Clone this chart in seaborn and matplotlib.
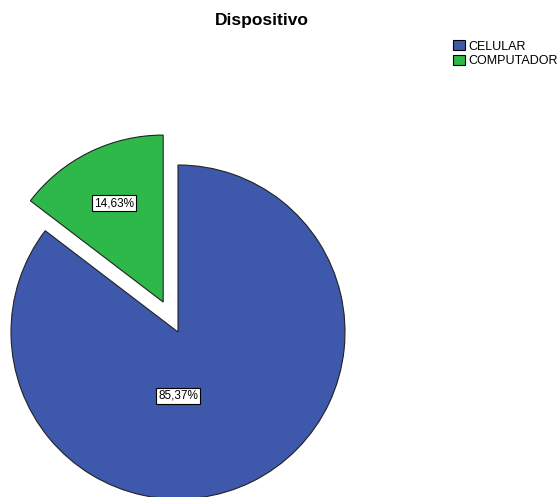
import matplotlib
matplotlib.use("Agg")
import matplotlib.pyplot as plt
import seaborn as sns
from matplotlib.patches import Patch

# Data
categories = ["CELULAR", "COMPUTADOR"]
percentages = [85.37, 14.63]
colors = ["#3E58AC", "#2EB84A"]

sns.set_theme(style="white")
plt.rcParams["font.family"] = ["Liberation Sans", "DejaVu Sans"]
plt.rcParams["text.color"] = "black"

W, H = 559, 497
R = 167
fig = plt.figure(figsize=(W / 100, H / 100), dpi=100)
ax = fig.add_axes([0, 0, 1, 1])

def fmt(p):
    return f"{p:.2f}%".replace(".", ",")

# explode is given in axis units, so scale by the radius
wedges, texts, autotexts = ax.pie(
    percentages,
    colors=colors,
    explode=[0.0, 0.2 * R],
    startangle=90,
    counterclock=False,
    center=(178, 165),
    radius=R,
    autopct=fmt,
    pctdistance=0.66,
    wedgeprops=dict(edgecolor="#222222", linewidth=0.8),
    textprops=dict(fontsize=8.5, color="black"),
    frame=True,
)
ax.set_xlim(0, W)
ax.set_ylim(0, H)
ax.set_aspect("equal")
ax.axis("off")

# Place the large slice's label just below the pie center
autotexts[0].set_position((178, 165 - 64))
for t in autotexts:
    t.set_bbox(dict(facecolor="white", edgecolor="black", linewidth=0.8, pad=1.5))

fig.text(262 / W, 1 - 21 / H, "Dispositivo", ha="center", va="center",
         fontsize=12.5, fontweight="bold", color="black")

handles = [Patch(facecolor=c, edgecolor="black", linewidth=0.8) for c in colors]
leg = fig.legend(handles, categories, loc="upper left",
                 bbox_to_anchor=(453 / W, 1 - 40 / H), frameon=False,
                 fontsize=9, handlelength=0.95, handleheight=0.9,
                 handletextpad=0.25, labelspacing=0.2, borderpad=0.0,
                 borderaxespad=0)
for t in leg.get_texts():
    t.set_color("black")

fig.savefig("out.png", dpi=100)
